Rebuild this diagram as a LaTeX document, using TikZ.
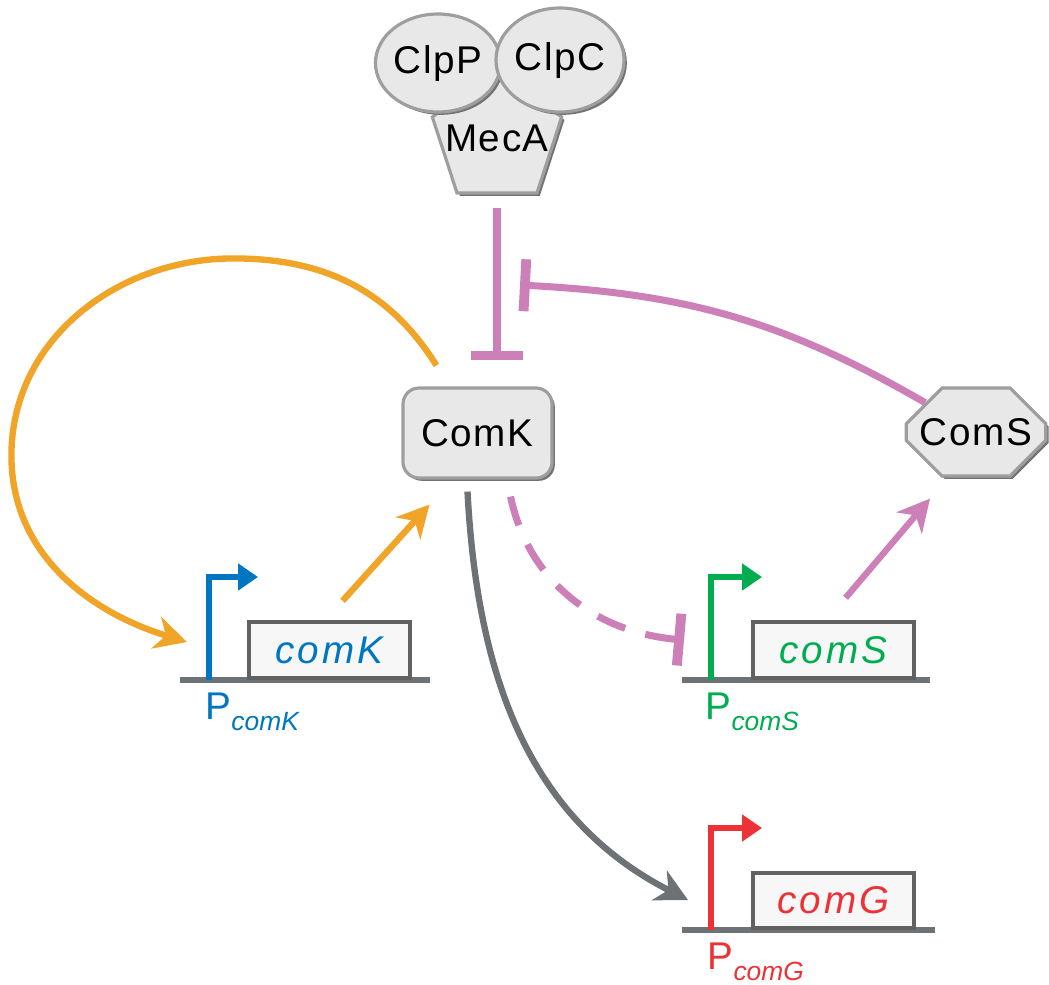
\documentclass[tikz,border=0pt]{standalone}
\usepackage{fontspec}
\setmainfont{Liberation Sans}
\usetikzlibrary{shapes.misc, shapes.geometric}
\usetikzlibrary{arrows,arrows.meta}
\usetikzlibrary{calc, shadows}
\definecolor{aktiv}{RGB}{240,165,40}
\definecolor{hemm}{RGB}{205,128,183}
\definecolor{stahl}{RGB}{108,114,117}
\definecolor{kblau}{RGB}{0,118,192}
\definecolor{sgruen}{RGB}{0,172,80}
\definecolor{grot}{RGB}{236,50,55}
\colorlet{protfill}{black!9}
\colorlet{protrand}{black!38}
\newcommand\protfont{\fontsize{11}{13}\selectfont\addfontfeatures{LetterSpace=4}}
\newcommand\genfont{\fontsize{11}{13}\selectfont\itshape\addfontfeatures{LetterSpace=8}}
\newcommand\subfont{\fontsize{7.5}{8}\selectfont\itshape}

\begin{document}
\begin{tikzpicture}[
    prot/.style={draw=protrand, fill=protfill, line width=0.9pt, inner sep=0pt, font=\protfont,
        drop shadow={shadow xshift=0.8pt, shadow yshift=-0.8pt, fill=black!55, opacity=1}},
    gen/.style={draw=black!62, fill=black!3, line width=1.2pt, minimum width=1.61cm,
        minimum height=0.56cm, inner sep=0pt, anchor=south west, font=\genfont},
    dna/.style={line width=1.8pt, stahl},
    prom/.style={line width=1.7pt, -{Triangle[length=0.2cm, width=0.26cm]}},
    akt/.style={line width=1.8pt, -{Stealth[length=0.32cm, width=0.33cm, inset=0.1cm]}},
    hem/.style={line width=2pt, hemm, -{Bar[width=0.52cm, line width=2.8pt]}},
    plab/.style={anchor=north west, inner sep=0pt, font=\fontsize{11}{13}\selectfont}
]
    \useasboundingbox (0,0) rectangle (10.49,-9.84);

    % protease complex
    \node[prot, regular polygon, regular polygon sides=5, minimum size=1.36cm,
        label={[font=\protfont, inner sep=0pt]center:MecA}] (mecA) at (4.97,-1.38) {};
    \node[prot, ellipse, minimum width=1.24cm, minimum height=0.98cm] (clpP) at (4.38,-0.63) {ClpP};
    \node[prot, ellipse, minimum width=1.27cm, minimum height=1.04cm] (clpC) at (5.60,-0.60) {ClpC};

    \node[prot, rounded corners=0.16cm, minimum width=1.49cm, minimum height=0.9cm] (ComK) at (4.775,-4.33) {ComK};
    \node[prot, chamfered rectangle, chamfered rectangle xsep=0.25cm, chamfered rectangle ysep=0.22cm,
        minimum width=1.38cm, minimum height=0.88cm] (ComS) at (9.76,-4.32) {ComS};

    % genes
    \coordinate (pK) at (2.09,-6.80);
    \coordinate (pS) at (7.11,-6.80);
    \coordinate (pG) at (7.11,-9.30);

    \draw[dna] ([xshift=-0.29cm]pK) -- ++(2.5,0);
    \node[gen, text=kblau] (gK) at ([xshift=0.38cm]pK) {comK};
    \draw[prom, kblau] (pK) |- ++(0.49,1.03);
    \node[plab, text=kblau] (lK) at ([shift={(-0.04,-0.12)}]pK) {P\raisebox{-0.55ex}{\subfont comK}};

    \draw[dna] ([xshift=-0.29cm]pS) -- ++(2.48,0);
    \node[gen, text=sgruen] (gS) at ([xshift=0.40cm]pS) {comS};
    \draw[prom, sgruen] (pS) |- ++(0.51,1.03);
    \node[plab, text=sgruen] (lS) at ([shift={(-0.06,-0.12)}]pS) {P\raisebox{-0.55ex}{\subfont comS}};

    \draw[dna] ([xshift=-0.29cm]pG) -- ++(2.53,0);
    \node[gen, text=grot, minimum height=0.55cm] (gG) at ([xshift=0.40cm]pG) {comG};
    \draw[prom, grot] (pG) |- ++(0.51,1.02);
    \node[plab, text=grot] (lG) at ([shift={(-0.04,-0.12)}]pG) {P\raisebox{-0.55ex}{\subfont comG}};

    % regulation
    \draw[hem] ([yshift=-0.13cm]mecA.south) -- ([yshift=0.26cm]mecA.south |- ComK.north);
    \coordinate (blk) at (5.20,-2.85);
    \draw[hem] (ComS.150) to[out=150, in=-3] (blk);

    \draw[akt, aktiv] ([shift={(0.35,0.21)}]ComK.north west) to[out=122, in=0] ++(-2.03,1.07)
        to[out=180, in=90] ++(-2.22,-1.97) to[out=-90, in=163] ([shift={(-0.22,0.38)}]pK);
    \draw[akt, aktiv] ([shift={(0.13,0.19)}]gK.north) -- ([shift={(-0.48,-0.25)}]ComK.south);
    \draw[akt, hemm] ([shift={(0.12,0.22)}]gS.north) -- ([shift={(-0.46,-0.21)}]ComS.south);

    \draw[hem, dash pattern=on 8.5pt off 6pt] ([shift={(0.33,-0.17)}]ComK.south) to[out=-78, in=175] ([shift={(-0.27,0.40)}]pS);
    \draw[akt, stahl] ([shift={(-0.1,-0.12)}]ComK.south) to[out=-87, in=153] ([shift={(-0.23,0.30)}]pG);

\end{tikzpicture}
\end{document}
